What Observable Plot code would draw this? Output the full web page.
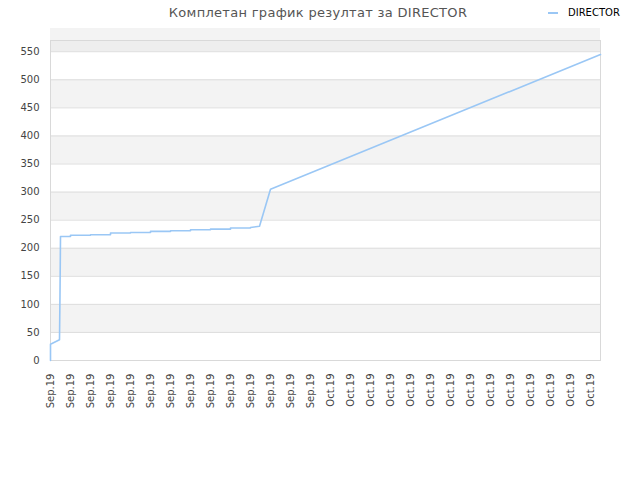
<!DOCTYPE html>
<html>
<head>
<meta charset="utf-8">
<script src="https://cdn.jsdelivr.net/npm/d3@7"></script>
<script src="https://cdn.jsdelivr.net/npm/@observablehq/plot@0.6"></script>
<style>
  html, body { margin: 0; padding: 0; background: #fff; }
  #wrap { position: relative; width: 640px; height: 480px; font-family: "DejaVu Sans", sans-serif; }
  #head { position: relative; height: 28px; }
  #title { position: absolute; left: 0; width: 636px; top: 0; line-height: 25px; text-align: center; font-size: 13px; color: #555; letter-spacing: 0.3px; }
  #legend { position: absolute; left: 548px; top: 6px; font-size: 10px; color: #000; line-height: 14px; }
  #legend .sw { display: inline-block; width: 10px; height: 2px; background: #9ac7f5; vertical-align: middle; margin-right: 10px; }
</style>
</head>
<body>
<div id="wrap">
  <div id="head">
    <div id="title">Комплетан график резултат за DIRECTOR</div>
    <div id="legend"><span class="sw"></span>DIRECTOR</div>
  </div>
  <div id="chart"></div>
</div>
<script>
// Data: x position in day-index units, value of DIRECTOR series
const pointIndex = [0, 0, 0.9, 0.95, 1, 2, 2, 4, 4, 6, 6, 8, 8, 10, 10, 12, 12, 14, 14, 16, 16, 18, 18, 20, 20, 20.9, 22, 55];
const directorCount = [0, 29, 37, 117, 221, 221, 223, 223, 224, 224, 227, 227, 228, 228, 230, 230, 231, 231, 233, 233, 234, 234, 236, 236, 237, 239, 305, 545];

// X tick labels (every second day index)
const xTickIndex = [0, 2, 4, 6, 8, 10, 12, 14, 16, 18, 20, 22, 24, 26, 28, 30, 32, 34, 36, 38, 40, 42, 44, 46, 48, 50, 52, 54];
const xTickLabels = ["Sep.19", "Sep.19", "Sep.19", "Sep.19", "Sep.19", "Sep.19", "Sep.19", "Sep.19", "Sep.19", "Sep.19", "Sep.19", "Sep.19", "Sep.19", "Sep.19",
                     "Oct.19", "Oct.19", "Oct.19", "Oct.19", "Oct.19", "Oct.19", "Oct.19", "Oct.19", "Oct.19", "Oct.19", "Oct.19", "Oct.19", "Oct.19", "Oct.19"];
const yTicks = [0, 50, 100, 150, 200, 250, 300, 350, 400, 450, 500, 550];
const yMax = 570;
const xMax = 55;

const data = pointIndex.map((x, k) => ({x, v: directorCount[k]}));
const labelOf = new Map(xTickIndex.map((t, k) => [t, xTickLabels[k]]));
const bands = yTicks.filter((t, k) => k % 2 === 1);

const chart = Plot.plot({
  width: 640,
  height: 452,
  marginLeft: 50,
  marginRight: 40,
  marginTop: 12,
  marginBottom: 120,
  style: {fontFamily: "DejaVu Sans", fontSize: "10px", color: "#444", background: "#fff"},
  x: {type: "linear", domain: [0, xMax], axis: null},
  y: {domain: [0, yMax], axis: null},
  marks: [
    Plot.rect(bands, {y1: d => d, y2: d => d + 50, fill: "#f3f3f3"}),
    Plot.rect([yTicks[yTicks.length - 1]], {y1: d => d, y2: yMax, fill: "#eeeeee"}),
    Plot.ruleY(yTicks, {stroke: "#dddddd", strokeWidth: 1}),
    Plot.frame({stroke: "#d9d9d9"}),
    Plot.axisY(yTicks, {tickSize: 0, tickPadding: 11, tickFormat: d => String(d), fill: "#444", label: null}),
    Plot.axisX(xTickIndex, {tickSize: 0, tickPadding: 13, tickRotate: -90, tickFormat: d => labelOf.get(d), fill: "#444", label: null}),
    Plot.line(data, {x: "x", y: "v", stroke: "#9ac7f5", strokeWidth: 1.6})
  ]
});
document.getElementById("chart").appendChild(chart);
</script>
</body>
</html>
